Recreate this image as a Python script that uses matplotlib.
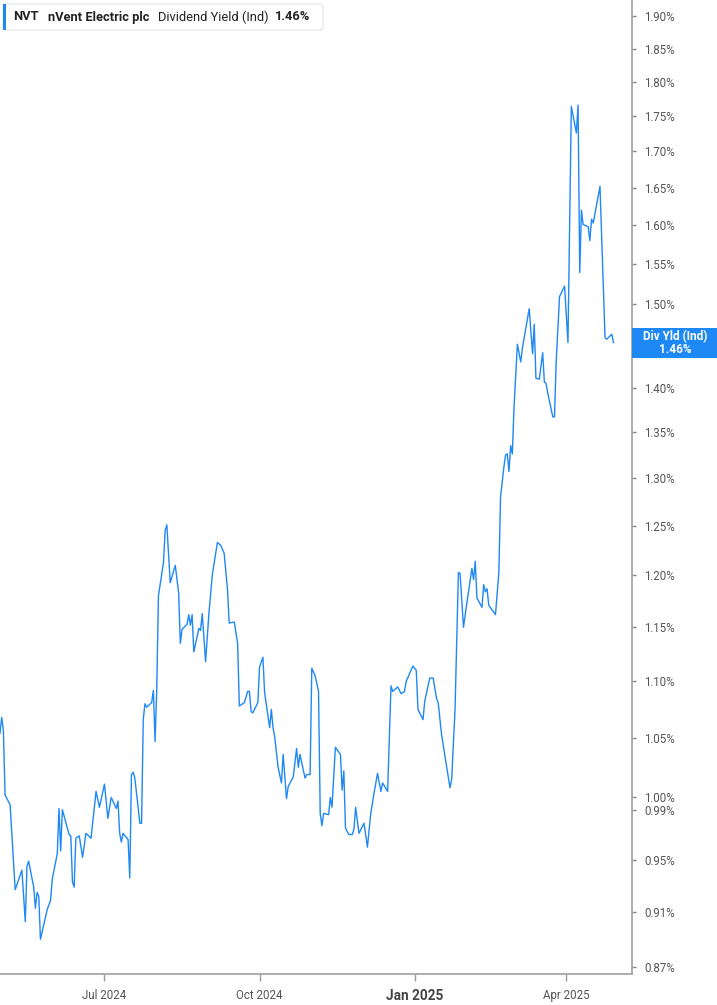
import matplotlib
matplotlib.use("Agg")
import matplotlib.pyplot as plt
import matplotlib.transforms as mtransforms
from matplotlib.patches import Rectangle, FancyBboxPatch
from matplotlib.ticker import FixedLocator, NullLocator
import numpy as np
import pandas as pd

dates = [
    "2024-04-30", "2024-05-01", "2024-05-02", "2024-05-03", "2024-05-06", "2024-05-09", "2024-05-13",
    "2024-05-15", "2024-05-16", "2024-05-17", "2024-05-20", "2024-05-21", "2024-05-22", "2024-05-23",
    "2024-05-24", "2024-05-28", "2024-05-30", "2024-05-31", "2024-06-03", "2024-06-04", "2024-06-05",
    "2024-06-06", "2024-06-10", "2024-06-11", "2024-06-12", "2024-06-13", "2024-06-14", "2024-06-16",
    "2024-06-18", "2024-06-20", "2024-06-23", "2024-06-26", "2024-06-28", "2024-07-01", "2024-07-03",
    "2024-07-05", "2024-07-08", "2024-07-09", "2024-07-10", "2024-07-11", "2024-07-12", "2024-07-15",
    "2024-07-16", "2024-07-17", "2024-07-18", "2024-07-19", "2024-07-22", "2024-07-23", "2024-07-24",
    "2024-07-25", "2024-07-26", "2024-07-29", "2024-07-30", "2024-07-31", "2024-08-01", "2024-08-02",
    "2024-08-05", "2024-08-06", "2024-08-07", "2024-08-09", "2024-08-12", "2024-08-14", "2024-08-15",
    "2024-08-16", "2024-08-19", "2024-08-20", "2024-08-21", "2024-08-22", "2024-08-23", "2024-08-26",
    "2024-08-27", "2024-08-28", "2024-08-30", "2024-09-01", "2024-09-03", "2024-09-06", "2024-09-08",
    "2024-09-10", "2024-09-12", "2024-09-13", "2024-09-16", "2024-09-18", "2024-09-19", "2024-09-22",
    "2024-09-24", "2024-09-25", "2024-09-26", "2024-09-27", "2024-09-30", "2024-10-01", "2024-10-03",
    "2024-10-04", "2024-10-07", "2024-10-08", "2024-10-09", "2024-10-10", "2024-10-12", "2024-10-14",
    "2024-10-15", "2024-10-17", "2024-10-18", "2024-10-21", "2024-10-23", "2024-10-24", "2024-10-25",
    "2024-10-28", "2024-10-29", "2024-10-31", "2024-11-01", "2024-11-03", "2024-11-05", "2024-11-06",
    "2024-11-07", "2024-11-08", "2024-11-11", "2024-11-12", "2024-11-13", "2024-11-15", "2024-11-18",
    "2024-11-19", "2024-11-20", "2024-11-21", "2024-11-23", "2024-11-25", "2024-11-26", "2024-11-27",
    "2024-11-29", "2024-12-02", "2024-12-04", "2024-12-06", "2024-12-08", "2024-12-10", "2024-12-12",
    "2024-12-13", "2024-12-16", "2024-12-18", "2024-12-19", "2024-12-22", "2024-12-24", "2024-12-26",
    "2024-12-27", "2024-12-31", "2025-01-02", "2025-01-03", "2025-01-06", "2025-01-07", "2025-01-10",
    "2025-01-12", "2025-01-14", "2025-01-15", "2025-01-17", "2025-01-22", "2025-01-23", "2025-01-25",
    "2025-01-27", "2025-01-28", "2025-01-30", "2025-02-01", "2025-02-04", "2025-02-05", "2025-02-06",
    "2025-02-07", "2025-02-10", "2025-02-11", "2025-02-12", "2025-02-13", "2025-02-14", "2025-02-18",
    "2025-02-20", "2025-02-21", "2025-02-23", "2025-02-24", "2025-02-25", "2025-02-26", "2025-02-27",
    "2025-02-28", "2025-03-01", "2025-03-03", "2025-03-05", "2025-03-06", "2025-03-10", "2025-03-12",
    "2025-03-13", "2025-03-14", "2025-03-16", "2025-03-18", "2025-03-19", "2025-03-20", "2025-03-21",
    "2025-03-24", "2025-03-25", "2025-03-26", "2025-03-28", "2025-03-31", "2025-04-02", "2025-04-04",
    "2025-04-07", "2025-04-08", "2025-04-09", "2025-04-10", "2025-04-11", "2025-04-14", "2025-04-15",
    "2025-04-16", "2025-04-17", "2025-04-21", "2025-04-24", "2025-04-25", "2025-04-28", "2025-04-29",
]

div_yield = [
    1.054, 1.068, 1.057, 1.002, 0.994, 0.927, 0.942,
    0.903, 0.945, 0.949, 0.929, 0.913, 0.925, 0.922,
    0.890, 0.912, 0.919, 0.935, 0.955, 0.991, 0.957,
    0.990, 0.970, 0.969, 0.933, 0.929, 0.967, 0.969,
    0.952, 0.971, 0.967, 1.005, 0.992, 1.011, 0.983,
    1.000, 0.991, 0.997, 0.971, 0.964, 0.971, 0.966,
    0.936, 1.019, 1.021, 1.016, 0.979, 0.979, 1.066,
    1.080, 1.077, 1.081, 1.092, 1.047, 1.092, 1.180,
    1.213, 1.245, 1.251, 1.193, 1.210, 1.183, 1.135,
    1.148, 1.153, 1.162, 1.152, 1.162, 1.127, 1.149,
    1.147, 1.163, 1.118, 1.164, 1.201, 1.233, 1.230,
    1.222, 1.186, 1.154, 1.155, 1.135, 1.078, 1.081,
    1.091, 1.091, 1.073, 1.072, 1.081, 1.113, 1.122,
    1.090, 1.059, 1.075, 1.059, 1.051, 1.025, 1.012,
    1.036, 0.999, 1.009, 1.017, 1.041, 1.025, 1.036,
    1.016, 1.019, 1.019, 1.112, 1.105, 1.091, 0.987,
    0.977, 0.987, 0.986, 1.000, 0.992, 1.042, 1.036,
    1.006, 1.022, 0.975, 0.970, 0.970, 0.974, 0.992,
    0.971, 0.979, 0.960, 0.987, 1.004, 1.020, 1.005,
    1.012, 1.005, 1.096, 1.091, 1.095, 1.089, 1.091,
    1.100, 1.114, 1.110, 1.075, 1.066, 1.082, 1.103,
    1.103, 1.085, 1.081, 1.053, 1.008, 1.015, 1.075,
    1.203, 1.202, 1.150, 1.173, 1.207, 1.196, 1.214,
    1.178, 1.169, 1.191, 1.184, 1.187, 1.171, 1.162,
    1.203, 1.280, 1.312, 1.325, 1.326, 1.307, 1.335,
    1.326, 1.378, 1.451, 1.430, 1.447, 1.494, 1.440,
    1.475, 1.411, 1.410, 1.441, 1.407, 1.405, 1.394,
    1.367, 1.367, 1.430, 1.509, 1.522, 1.453, 1.764,
    1.726, 1.766, 1.539, 1.620, 1.601, 1.598, 1.580,
    1.608, 1.603, 1.652, 1.459, 1.457, 1.463, 1.453,
]

y_ticks = [0.87, 0.91, 0.95, 0.99, 1.00, 1.05, 1.10, 1.15, 1.20, 1.25, 1.30, 1.35,
           1.40, 1.45, 1.50, 1.55, 1.60, 1.65, 1.70, 1.75, 1.80, 1.85, 1.90]
hidden_tick = 1.45  # covered by the current-value tag in the reference
x_tick_dates = ["2024-07-01", "2024-10-01", "2025-01-01", "2025-04-01"]
x_tick_labels = ["Jul 2024", "Oct 2024", "Jan 2025", "Apr 2025"]

ticker_sym = "NVT"
company = "nVent Electric plc"
metric = "Dividend Yield (Ind)"
current_label = "1.46%"
tag_label = "Div Yld (Ind)"

LINE = "#1e88f5"
W, H = 717, 1005

fig = plt.figure(figsize=(W / 100, H / 100), dpi=100)
ax = fig.add_axes([0, 1 - 974 / H, 632 / W, 974 / H])

x = pd.to_datetime(dates)
ax.plot(x, div_yield, color=LINE, lw=1.0)

ax.set_yscale("log")
ax.set_ylim(0.8650, 1.9252)
ax.set_xlim(pd.Timestamp("2024-04-30"), pd.Timestamp("2025-05-10"))

ax.yaxis.set_major_locator(FixedLocator(y_ticks))
ax.yaxis.set_minor_locator(NullLocator())
ax.set_yticks(y_ticks)
ax.set_yticklabels(["" if abs(v - hidden_tick) < 1e-9 else f"{v:.2f}%" for v in y_ticks])
ax.yaxis.tick_right()
ax.tick_params(axis="y", which="both", direction="out", length=3, width=1,
               color="#888888", labelcolor="#555555", labelsize=8.3, pad=6)
for lab in ax.get_yticklabels():
    lab.set_fontfamily("Roboto")

ax.set_xticks(pd.to_datetime(x_tick_dates))
ax.set_xticklabels(x_tick_labels)
ax.tick_params(axis="x", direction="out", length=5, width=1, color="#999999",
               labelcolor="#555555", labelsize=8.3, pad=6)
for lab in ax.get_xticklabels():
    lab.set_fontfamily("Roboto")
    if lab.get_text() == "Jan 2025":
        lab.set_fontweight("bold")
        lab.set_fontsize(9.8)
        lab.set_color("#444444")

for s in ["top", "left"]:
    ax.spines[s].set_visible(False)
for s in ["right", "bottom"]:
    ax.spines[s].set_color("#a6a6a6")
    ax.spines[s].set_linewidth(1.3)


def fx(px):
    return px / W


def fy(py):
    return 1 - py / H


# legend box at the top-left
box = FancyBboxPatch((fx(3), fy(30)), fx(323) - fx(3), fy(4) - fy(30),
                     boxstyle="round,pad=0,rounding_size=0.004",
                     transform=fig.transFigure, facecolor="white",
                     edgecolor="#e3e3e3", lw=0.8, zorder=5)
fig.patches.append(box)
bar = Rectangle((fx(3), fy(30)), fx(3), fy(4) - fy(30), transform=fig.transFigure,
                facecolor="#1e88f5", edgecolor="none", zorder=6)
fig.patches.append(bar)
ty = fy(17)
fs_leg = 9.3
fig.text(fx(13), ty, ticker_sym, fontsize=fs_leg, fontweight="bold", color="#222222",
         va="center", family="Roboto", zorder=7)
fig.text(fx(48), ty, company, fontsize=fs_leg, fontweight="bold", color="#222222",
         va="center", family="Roboto", zorder=7)
fig.text(fx(158), ty, metric, fontsize=fs_leg, color="#222222",
         va="center", family="Roboto", zorder=7)
fig.text(fx(275), ty, current_label, fontsize=fs_leg, fontweight="bold", color="#222222",
         va="center", family="Roboto", zorder=7)

# current value tag on the right axis
last = div_yield[-1]
trans = mtransforms.blended_transform_factory(ax.transAxes, ax.transData)
half = np.exp(15 / 1217.5)
tag = Rectangle((1.0, last / half), (W - 632) / 632, last * half - last / half,
                transform=trans, facecolor="#1e88f5", edgecolor="none",
                clip_on=False, zorder=8)
ax.add_patch(tag)
cx = 675 / 632
ax.text(cx, last, tag_label + "\n" + current_label, transform=trans, ha="center",
        va="center", ma="center", color="white", fontsize=8.5, fontweight="bold",
        family="Roboto", linespacing=1.0, clip_on=False, zorder=9)

fig.savefig("out.png", dpi=100)
